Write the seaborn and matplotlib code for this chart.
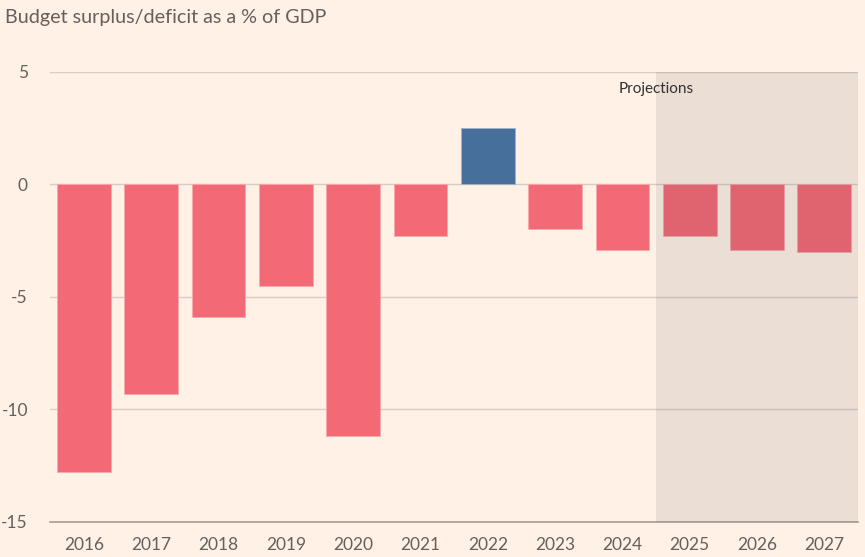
import pandas as pd
import seaborn as sns
import matplotlib.pyplot as plt

# Budget balance, % of GDP
years = ["2016", "2017", "2018", "2019", "2020", "2021",
         "2022", "2023", "2024", "2025", "2026", "2027"]
balance = [-12.8, -9.3, -5.9, -4.5, -11.2, -2.3, 2.5, -2.0, -2.9, -2.3, -2.9, -3.0]
y_ticks = [-15, -10, -5, 0, 5]
proj_label = "Projections"
title = "Budget surplus/deficit as a % of GDP"

df = pd.DataFrame({"year": years, "balance": balance})
df["sign"] = ["pos" if v > 0 else "neg" for v in df["balance"]]

bg = "#fff1e5"
txt = "#66605c"

sns.set_theme(style="white")
plt.rcParams["font.family"] = ["Lato", "DejaVu Sans"]

fig = plt.figure(figsize=(8.65, 5.57), dpi=100, facecolor=bg)
ax = fig.add_axes([0.058, 0.063, 0.934, 0.808])
ax.set_facecolor(bg)

for t in y_ticks[1:]:
    ax.axhline(t, color="#d9cdc3", lw=1, zorder=1)

sns.barplot(data=df, x="year", y="balance", hue="sign",
            palette={"neg": "#f26a75", "pos": "#46709b"},
            saturation=1, width=0.8, dodge=False, legend=False, ax=ax,
            zorder=2, edgecolor="#f7a9ab", linewidth=0.6)
# blue bar gets a lighter edge too
for p in ax.patches:
    if p.get_height() > 0:
        p.set_edgecolor("#9fb2c8")

ax.axvspan(8.5, 11.5, color="#23293b", alpha=0.09, lw=0, zorder=3)
ax.text(8.5, 4.25, proj_label, ha="center", va="center",
        fontsize=11, color="#33302e", zorder=4)

ax.set_xlim(-0.5, 11.5)
ax.set_ylim(-15, 5)
ax.set_yticks(y_ticks)
ax.set_yticklabels([str(t) for t in y_ticks])
ax.set_xlabel("")
ax.set_ylabel("")

for s in ["top", "right", "left"]:
    ax.spines[s].set_visible(False)
ax.spines["bottom"].set_color("#a59c94")
ax.spines["bottom"].set_linewidth(1.2)

ax.tick_params(axis="x", length=7, width=1, color="#a59c94",
               labelsize=12.5, labelcolor=txt, pad=4)
ax.tick_params(axis="y", length=0, labelsize=12.5, labelcolor=txt, pad=16)

fig.text(0.006, 0.968, title, fontsize=14.2, color=txt, ha="left", va="center")

fig.savefig("out.png", dpi=100, facecolor=bg)
